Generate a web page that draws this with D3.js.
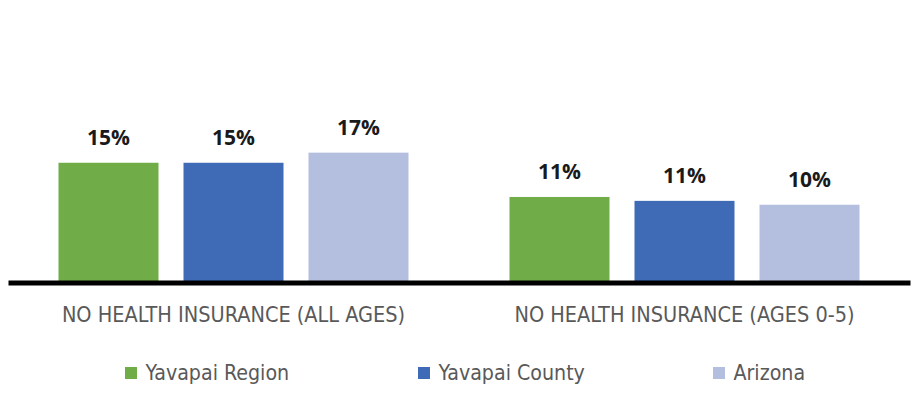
<!DOCTYPE html>
<html>
<head>
<meta charset="utf-8">
<script src="https://cdn.jsdelivr.net/npm/d3@7"></script>
<style>
  body { margin: 0; background: #fff; }
  .catlabel, .legend text { font-family: "Liberation Sans Narrow", "DejaVu Sans Condensed", "Open Sans", sans-serif; fill: #595959; }
  .barlabel { font-family: "Open Sans", "Liberation Sans", sans-serif; font-weight: bold; fill: #1a1a1a; }
</style>
</head>
<body>
<div id="chart"></div>
<script>
const categories = ["NO HEALTH INSURANCE (ALL AGES)", "NO HEALTH INSURANCE (AGES 0-5)"];
const series = ["Yavapai Region", "Yavapai County", "Arizona"];
const yavapaiRegion = [15.4, 11.0];
const yavapaiCounty = [15.4, 10.5];
const arizona = [16.7, 10.0];
const colors = ["#70ac47", "#3f6bb6", "#b4bfdf"];

const width = 921, height = 408;
const margin = ({top: 127, right: 11, bottom: 125.5, left: 8});

const values = [yavapaiRegion, yavapaiCounty, arizona];
const data = categories.map((c, i) => ({cat: c, vals: series.map((s, j) => ({key: s, value: values[j][i]}))}));

const x0 = d3.scaleBand()
    .domain(categories)
    .range([margin.left, width - margin.right]);

const x1 = d3.scaleBand()
    .domain(series)
    .range([0, x0.bandwidth()])
    .paddingInner(0.2)
    .paddingOuter(0.404);

const y = d3.scaleLinear()
    .domain([0, 20])
    .range([height - margin.bottom, margin.top]);

const color = d3.scaleOrdinal().domain(series).range(colors);

const svg = d3.select("#chart").append("svg").attr("width", width).attr("height", height);

let groups = svg.append("g").selectAll("g")
  .data(data)
  .join("g")
    .attr("transform", d => `translate(${x0(d.cat)},0)`);

groups.selectAll("rect")
  .data(d => d.vals)
  .join("rect")
    .attr("x", d => x1(d.key))
    .attr("width", x1.bandwidth())
    .attr("y", d => y(d.value))
    .attr("height", d => y(0) - y(d.value))
    .attr("fill", d => color(d.key));

groups.selectAll("text")
  .data(d => d.vals)
  .join("text")
    .attr("class", "barlabel")
    .attr("x", d => x1(d.key) + x1.bandwidth() / 2)
    .attr("y", d => y(d.value) - 17.5)
    .attr("text-anchor", "middle")
    .attr("font-size", 21)
    .text(d => Math.round(d.value) + "%");

// category axis, drawn as a thick black baseline
const xAxis = d3.axisBottom(x0).tickSize(0).tickSizeOuter(0).tickPadding(24);
const ax = svg.append("g")
    .attr("transform", `translate(0,${y(0)})`)
    .call(xAxis);
ax.select(".domain").attr("stroke", "#000").attr("stroke-width", 5);
ax.selectAll("text")
    .attr("class", "catlabel")
    .attr("font-size", 21.5);
ax.attr("font-family", null);

// legend
const legendX = [125, 418, 713];
const legend = svg.append("g").attr("class", "legend")
  .selectAll("g")
  .data(series)
  .join("g")
    .attr("transform", (d, i) => `translate(${legendX[i]},367)`);
legend.append("rect")
    .attr("width", 12).attr("height", 12)
    .attr("fill", d => color(d));
legend.append("text")
    .attr("x", 20.5)
    .attr("y", 12.5)
    .attr("font-size", 21.2)
    .text(d => d);
</script>
</body>
</html>
